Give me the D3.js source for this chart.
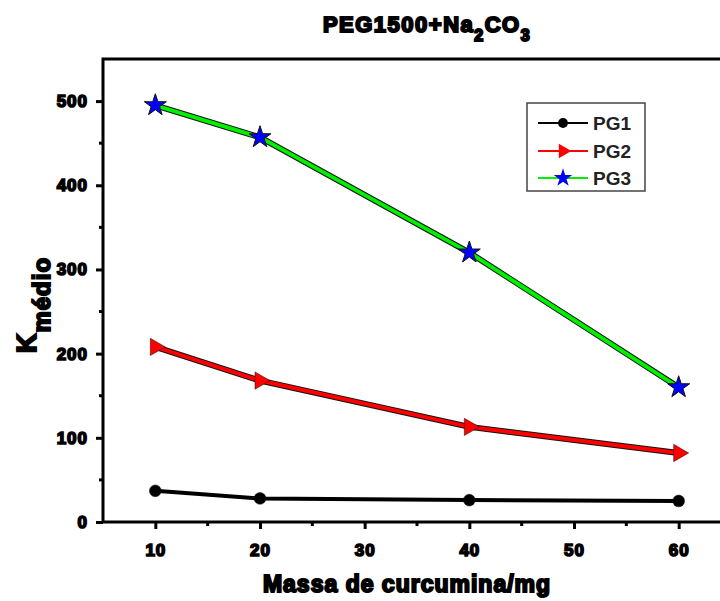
<!doctype html>
<html>
<head>
<meta charset="UTF-8">
<title>PEG1500+Na2CO3</title>
<script src="https://d3js.org/d3.v7.min.js"></script>
<style>
  body { margin: 0; background: #fff; }
  text { font-family: "Liberation Sans", Arial, sans-serif; font-weight: bold; }
</style>
</head>
<body>
<script>
// dados
var massa = [10, 20, 40, 60];
var pg1 = [37, 28, 26, 25];
var pg2 = [208, 168, 113, 82];
var pg3 = [495, 457, 320, 160];
var seriesNames = ["PG1", "PG2", "PG3"];
var xTicks = [10, 20, 30, 40, 50, 60];
var yTicks = [0, 100, 200, 300, 400, 500];

var w = 720, h = 601;
var pLeft = 103, pRight = 731, pTop = 59, pBottom = 522;

var svg = d3.select("body").append("svg")
    .attr("width", w).attr("height", h);

var x = d3.scaleLinear().domain([5, 65]).range([pLeft, pRight]);
var y = d3.scaleLinear().domain([0, 550]).range([pBottom, pTop]);

// frame
svg.append("rect")
    .attr("x", pLeft).attr("y", pTop)
    .attr("width", pRight - pLeft).attr("height", pBottom - pTop)
    .attr("fill", "none").attr("stroke", "#000").attr("stroke-width", 3);

// axes
var xAxis = d3.axisBottom(x).tickValues(xTicks).tickSize(7).tickPadding(15);
var yAxis = d3.axisLeft(y).tickValues(yTicks).tickSize(7).tickPadding(8);

var gx = svg.append("g").attr("transform", "translate(0," + pBottom + ")").call(xAxis);
var gy = svg.append("g").attr("transform", "translate(" + pLeft + ",0)").call(yAxis);

[gx, gy].forEach(function(g) {
    g.select(".domain").remove();
    g.selectAll("line").attr("stroke", "#000").attr("stroke-width", 3);
    g.selectAll("text")
        .attr("font-size", 17)
        .attr("fill", "#000")
        .attr("stroke", "#000")
        .attr("stroke-width", 1.6)
        .attr("letter-spacing", 1)
        .style("font-family", "'Liberation Sans', Arial, sans-serif")
        .style("font-weight", "bold");
});

// minor ticks
var xMinor = [15, 25, 35, 45, 55];
var yMinor = [50, 150, 250, 350, 450];
svg.selectAll(".xm").data(xMinor).enter().append("line")
    .attr("x1", d => x(d)).attr("x2", d => x(d))
    .attr("y1", pBottom).attr("y2", pBottom + 4)
    .attr("stroke", "#000").attr("stroke-width", 3);
svg.selectAll(".ym").data(yMinor).enter().append("line")
    .attr("x1", pLeft).attr("x2", pLeft - 4)
    .attr("y1", d => y(d)).attr("y2", d => y(d))
    .attr("stroke", "#000").attr("stroke-width", 3);

// series
var data = [
    { name: seriesNames[0], vals: pg1, line: "#000", mark: "#000", sym: d3.symbolCircle, size: 110 },
    { name: seriesNames[1], vals: pg2, line: "#ff0000", mark: "#ff0000", sym: d3.symbolTriangle, size: 130 },
    { name: seriesNames[2], vals: pg3, line: "#00ee00", mark: "#0000ff", sym: d3.symbolStar, size: 150 }
];

var line = d3.line()
    .x(function(d, i) { return x(massa[i]); })
    .y(function(d) { return y(d); });

data.forEach(function(s) {
    if (s.name !== "PG1") {
        svg.append("path").attr("d", line(s.vals))
            .attr("fill", "none").attr("stroke", "#111").attr("stroke-width", 6);
    }
    svg.append("path").attr("d", line(s.vals))
        .attr("fill", "none").attr("stroke", s.line).attr("stroke-width", 4);

    svg.selectAll(null).data(s.vals).enter().append("path")
        .attr("d", d3.symbol().type(s.sym).size(s.size))
        .attr("transform", function(d, i) {
            var r = s.name === "PG2" ? " rotate(90)" : "";
            return "translate(" + x(massa[i]) + "," + y(d) + ")" + r;
        })
        .attr("fill", s.mark)
        .attr("stroke", "#111").attr("stroke-width", s.name === "PG3" ? 1 : 0.5);
});

// legend
var lg = svg.append("g");
lg.append("rect").attr("x", 527).attr("y", 103).attr("width", 118).attr("height", 88)
    .attr("fill", "#fff").attr("stroke", "#444").attr("stroke-width", 1.5);
var rowsY = [123, 151, 178];
data.forEach(function(s, i) {
    lg.append("line").attr("x1", 538).attr("x2", 588)
        .attr("y1", rowsY[i]).attr("y2", rowsY[i])
        .attr("stroke", s.line).attr("stroke-width", 2);
    lg.append("path")
        .attr("d", d3.symbol().type(s.sym).size(s.size * 0.7))
        .attr("transform", "translate(563," + rowsY[i] + ")" + (s.name === "PG2" ? " rotate(90)" : ""))
        .attr("fill", s.mark);
    lg.append("text").attr("x", 593).attr("y", rowsY[i] + 6.5)
        .attr("font-size", 19).attr("fill", "#222").text(s.name);
});

// title
var t = svg.append("text").attr("x", 427).attr("y", 32)
    .attr("text-anchor", "middle").attr("font-size", 22)
    .attr("letter-spacing", 1.5)
    .attr("stroke", "#000").attr("stroke-width", 2);
t.append("tspan").text("PEG1500+Na");
t.append("tspan").attr("baseline-shift", "sub").attr("font-size", 16).text("2");
t.append("tspan").text("CO");
t.append("tspan").attr("baseline-shift", "sub").attr("font-size", 16).text("3");

// x label
svg.append("text").attr("x", 407).attr("y", 592)
    .attr("text-anchor", "middle").attr("font-size", 23)
    .attr("letter-spacing", 1)
    .attr("stroke", "#000").attr("stroke-width", 2)
    .text("Massa de curcumina/mg");

// y label
var yl = svg.append("text")
    .attr("transform", "translate(36,305) rotate(-90)")
    .attr("text-anchor", "middle").attr("font-size", 27)
    .attr("letter-spacing", 1)
    .attr("stroke", "#000").attr("stroke-width", 2);
yl.append("tspan").text("K");
yl.append("tspan").attr("baseline-shift", "sub").attr("font-size", 24).text("médio");
</script>
</body>
</html>
